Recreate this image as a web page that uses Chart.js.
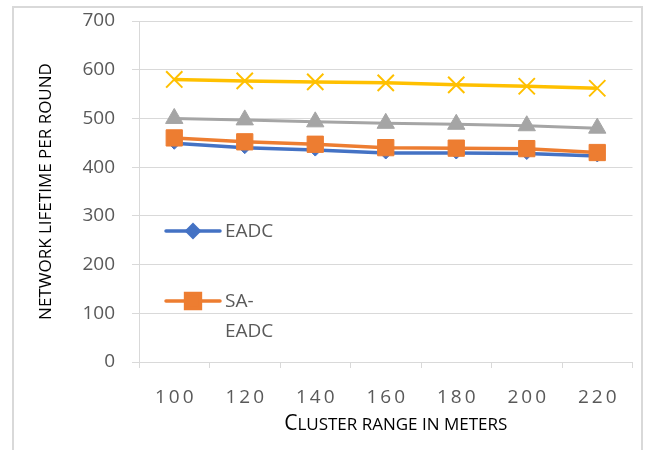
<!DOCTYPE html>
<html>
<head>
<meta charset="utf-8">
<script src="https://cdn.jsdelivr.net/npm/chart.js@4.4.1/dist/chart.umd.min.js"></script>
<style>
  html, body { margin: 0; padding: 0; background: #ffffff; }
  #wrap { width: 646px; height: 450px; position: relative; }
</style>
</head>
<body>
<div id="wrap"><canvas id="chart" width="646" height="450"></canvas></div>
<script>
// Cluster range (m) on the x axis
const clusterRanges = ['100', '120', '140', '160', '180', '200', '220'];

// Network lifetime (rounds) per protocol
const eadcLifetime   = [449, 440, 435, 429, 429, 428, 423];
const saEadcLifetime = [460, 452, 447, 440, 439, 438, 430];
const series3Lifetime = [500, 497, 493, 490, 488, 485, 480];
const series4Lifetime = [580, 577, 575, 573, 569, 566, 562];

// Y axis range
const yMin = 0;
const yMax = 700;
const yStep = 100;

const FONT = '"Open Sans", "Noto Sans", sans-serif';
const TICK_GREY = '#595959';
const RULE_GREY = '#D9D9D9';

// Light frame around the whole chart
const framePlugin = {
  id: 'frame',
  afterDraw(chart) {
    const ctx = chart.ctx;
    ctx.save();
    ctx.strokeStyle = RULE_GREY;
    ctx.lineWidth = 2;
    ctx.strokeRect(13, 7, 629, 470);
    ctx.restore();
  }
};

// Spaced category labels and small-caps title under the x axis
const xLabelsPlugin = {
  id: 'xLabels',
  afterDraw(chart) {
    const ctx = chart.ctx;
    const xs = chart.scales.x;
    ctx.save();
    ctx.font = '19px ' + FONT;
    ctx.fillStyle = TICK_GREY;
    ctx.textAlign = 'center';
    ctx.textBaseline = 'middle';
    ctx.letterSpacing = '3px';
    clusterRanges.forEach((label, i) => {
      ctx.fillText(label, xs.getPixelForTick(i) + 1.5, 398);
    });
    ctx.letterSpacing = '0px';

    // "Cluster range in meters" set in small capitals
    const first = 'C';
    const rest = 'luster range in meters'.toUpperCase();
    const bigFont = '21px ' + FONT;
    const smallFont = '17px ' + FONT;
    ctx.font = bigFont;
    const w1 = ctx.measureText(first).width;
    ctx.font = smallFont;
    const w2 = ctx.measureText(rest).width;
    const cx = (chart.chartArea.left + chart.chartArea.right) / 2 + 10;
    const x0 = cx - (w1 + w2) / 2;
    ctx.fillStyle = '#000000';
    ctx.textAlign = 'left';
    ctx.textBaseline = 'alphabetic';
    ctx.font = bigFont;
    ctx.fillText(first, x0, 430);
    ctx.font = smallFont;
    ctx.fillText(rest, x0 + w1, 430);
    ctx.restore();
  }
};

// Legend drawn inside the plot area, stacked at the left
const innerLegendPlugin = {
  id: 'innerLegend',
  afterDraw(chart) {
    const ctx = chart.ctx;
    const area = chart.chartArea;
    const rows = [
      { index: 0, y: area.bottom - 131 },
      { index: 1, y: area.bottom - 61 }
    ];
    const lineX0 = area.left + 27;
    const lineX1 = area.left + 81;
    const textX = area.left + 86;
    const maxTextWidth = 58;
    ctx.save();
    rows.forEach(row => {
      const ds = chart.data.datasets[row.index];
      ctx.strokeStyle = ds.borderColor;
      ctx.lineWidth = ds.borderWidth;
      ctx.lineCap = 'round';
      ctx.beginPath();
      ctx.moveTo(lineX0, row.y);
      ctx.lineTo(lineX1, row.y);
      ctx.stroke();
      ctx.fillStyle = ds.pointBackgroundColor;
      ctx.strokeStyle = ds.pointBorderColor;
      Chart.helpers.drawPoint(ctx, {
        pointStyle: ds.pointStyle,
        radius: ds.legendRadius,
        rotation: 0,
        borderWidth: 1
      }, (lineX0 + lineX1) / 2, row.y);

      ctx.font = '19px ' + FONT;
      ctx.fillStyle = TICK_GREY;
      ctx.textAlign = 'left';
      ctx.textBaseline = 'middle';
      let lines = [ds.label];
      if (ctx.measureText(ds.label).width > maxTextWidth && ds.label.includes('-')) {
        const cut = ds.label.indexOf('-') + 1;
        lines = [ds.label.slice(0, cut), ds.label.slice(cut)];
      }
      lines.forEach((t, k) => ctx.fillText(t, textX, row.y + 1 + k * 30));
    });
    ctx.restore();
  }
};

function series(label, data, color, style, radius, extra) {
  return Object.assign({
    label: label,
    data: data,
    borderColor: color,
    backgroundColor: color,
    borderWidth: 3.5,
    pointStyle: style,
    pointRadius: radius,
    pointHoverRadius: radius,
    pointBackgroundColor: color,
    pointBorderColor: color,
    pointBorderWidth: 1,
    tension: 0,
    fill: false
  }, extra || {});
}

new Chart(document.getElementById('chart'), {
  type: 'line',
  data: {
    labels: clusterRanges,
    datasets: [
      series('EADC', eadcLifetime, '#4472C4', 'rectRot', 6, { order: 4, legendRadius: 6 }),
      series('SA-EADC', saEadcLifetime, '#ED7D31', 'rect', 11.5, { order: 3, legendRadius: 10.5 }),
      series('Series3', series3Lifetime, '#A5A5A5', 'triangle', 10, { order: 2, borderWidth: 3 }),
      series('Series4', series4Lifetime, '#FFC000', 'crossRot', 11.5, { order: 1, pointBorderWidth: 2 })
    ]
  },
  options: {
    responsive: false,
    devicePixelRatio: 1,
    animation: false,
    layout: { padding: { left: 0, top: 21, right: 13, bottom: 0 } },
    plugins: {
      legend: { display: false },
      tooltip: { enabled: false }
    },
    scales: {
      x: {
        offset: true,
        grid: { offset: true, drawOnChartArea: false, drawTicks: true, tickLength: 6, color: RULE_GREY, lineWidth: 1 },
        border: { display: true, color: RULE_GREY, width: 1 },
        ticks: { display: false },
        afterFit(scale) { scale.height = 88; }
      },
      y: {
        min: yMin,
        max: yMax,
        ticks: {
          stepSize: yStep,
          color: TICK_GREY,
          padding: 17,
          font: { family: FONT, size: 19 }
        },
        grid: { color: RULE_GREY, lineWidth: 1, tickLength: 7, drawTicks: true },
        border: { display: true, color: RULE_GREY, width: 1 },
        title: {
          display: true,
          text: 'NETWORK LIFETIME PER ROUND',
          color: '#000000',
          font: { family: FONT, size: 17 },
          padding: { top: 36, bottom: 0 }
        },
        afterFit(scale) {
          scale.width = 139;
          scale.paddingTop = 0;
          scale.paddingBottom = 0;
        }
      }
    }
  },
  plugins: [framePlugin, xLabelsPlugin, innerLegendPlugin]
});
</script>
</body>
</html>
